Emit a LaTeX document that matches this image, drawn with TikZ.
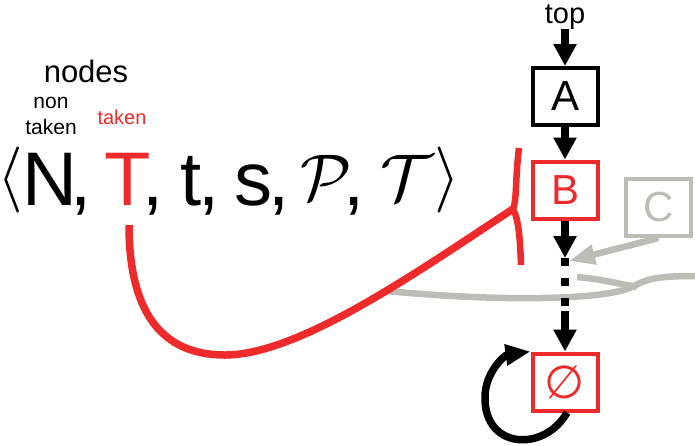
\documentclass[tikz,border=0pt]{standalone}
\usepackage{graphicx}
\usepackage{fontspec}
\setmainfont{Liberation Sans}
\newfontfamily\symfont{DejaVu Sans}
\usetikzlibrary{arrows.meta,calc}
\definecolor{tred}{RGB}{238,42,42}
\definecolor{tgray}{RGB}{187,189,182}
\newcommand{\bigmath}[1]{\scalebox{6.6}{$#1$}}
\begin{document}
\begin{tikzpicture}[x=1pt,y=-1pt,
  box/.style={draw, line width=4pt, minimum width=65pt, minimum height=57pt, inner sep=0pt, font=\fontsize{42}{42}\selectfont},
  big/.style={inner sep=0pt, anchor=base, font=\fontsize{76}{76}\selectfont},
  cal/.style={inner sep=0pt, anchor=base},
  lbl/.style={inner sep=0pt, anchor=base},
  flow/.style={line width=8pt, -{Triangle[length=22pt,width=22pt]}},
  dots/.style={line width=8pt, dash pattern=on 8pt off 12pt},
  grayarrow/.style={line width=6.5pt, draw=tgray, -{Triangle[length=26pt,width=19pt]}},
  graypath/.style={line width=6.5pt, draw=tgray},
  redpath/.style={line width=7.5pt, draw=tred},
  looparrow/.style={line width=7.5pt, -{Triangle[length=25pt,width=20pt]}}
]
\useasboundingbox (0,0) rectangle (695,445);

% labels
\node[lbl, font=\fontsize{31}{31}\selectfont] (nodes) at (86,82) {nodes};
\node[lbl, font=\fontsize{21}{26}\selectfont, align=center] (nontaken) at (51,134) {non\\taken};
\node[lbl, font=\fontsize{20}{20}\selectfont, text=tred] (taken) at (122,124) {taken};

% tuple
\node[cal, anchor=center] (la) at (10.5,180) {\bigmath{\langle}};
\node[big] (N) at (50,205) {N};
\node[big] (c1) at (81,205) {,};
\node[big, text=tred] (T) at (128,205) {T};
\node[big] (c2) at (153,205) {,};
\node[big] (t) at (191,205) {t};
\node[big] (c3) at (209,205) {,};
\node[big] (s) at (253,205) {s};
\node[big] (c4) at (279,205) {,};
\node[cal] (P) at (326,200) {\bigmath{\mathcal{P}}};
\node[big] (c5) at (354,205) {,};
\node[cal] (TT) at (407,200) {\bigmath{\mathcal{T}}};
\node[cal, anchor=center] (ra) at (447,180) {\bigmath{\rangle}};

% boxes
\node[lbl, font=\fontsize{29}{29}\selectfont] (top) at (565,23) {top};
\node[box] (A) at (565,96.5) {A};
\node[box, draw=tred, text=tred] (B) at (565,190) {B};
\node[box, draw=tgray, text=tgray] (C) at (658.5,207.5) {C};
\node[box, draw=tred, text=tred, font=\fontsize{46}{46}\symfont] (E) at (565,382) {∅};

\coordinate (m1) at (565,258);
\coordinate (m2) at (565,307);
\coordinate (m3) at (565,311);
\coordinate (g0) at (569,261);
\coordinate (J) at (513,209);
\coordinate (Ts) at ($(T.base)+(1,20)$);

% gray threads
\draw[graypath] (387,291) .. controls (500,302) and (605,300) .. (632,287)
   .. controls (648,278) and (660,276) .. (697,276);
\draw[graypath] (577,277) .. controls (600,279) and (615,283) .. (637,287);
\draw[grayarrow] (C.south) -- (g0);

% black flow
\draw[flow] (top.south) -- (A.north);
\draw[flow] (A.south) -- (B.north);
\draw[flow] (B.south) -- (m1);
\draw[dots] (m1) -- (m2);
\draw[flow] (m3) -- (E.north);
\draw[looparrow] ($(E.south)+(2,0)$) .. controls (545,452) and (484,450) .. (485,397)
   .. controls (485,372) and (505,355) .. (E.north west);

% red
\draw[redpath] (Ts) .. controls (129,310) and (160,355) .. (225,355)
   .. controls (300,355) and (420,270) .. (J);
\draw[redpath, line width=6.5pt] (J) .. controls (517,200) and (515,180) .. (519,148);
\draw[redpath, line width=6.5pt] (J) .. controls (519,220) and (520,240) .. (521,265);
\end{tikzpicture}
\end{document}
